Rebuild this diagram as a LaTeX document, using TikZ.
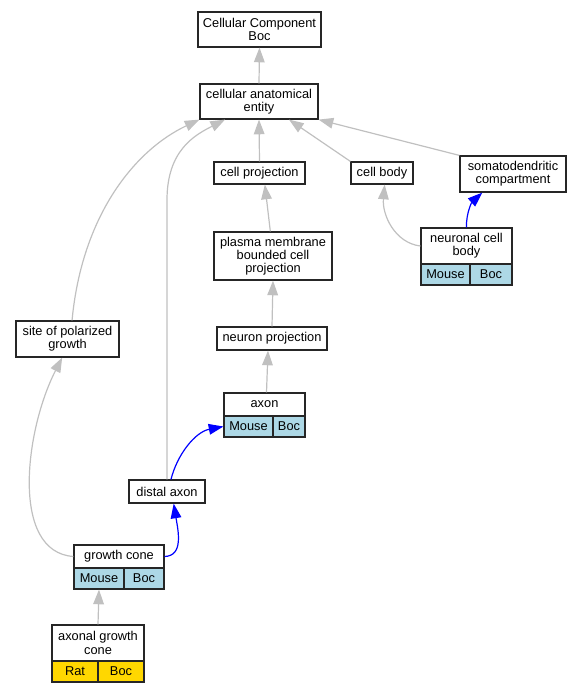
\documentclass[tikz,border=0pt]{standalone}
\usepackage{fontspec}
\setmainfont{Liberation Sans}
\usetikzlibrary{arrows.meta}
\definecolor{lblue}{HTML}{ADD8E6}
\definecolor{gold}{HTML}{FFD700}
\definecolor{edgegray}{HTML}{C0C0C0}
\tikzset{
  bx/.style n args={2}{draw=black!85, line width=0.9pt, fill=white, inner sep=0pt, align=center,
     minimum width=#1*0.75pt, minimum height=#2*0.75pt, font=\fontsize{9.6}{9.9}\selectfont},
  mouse/.style={fill=lblue},
  rat/.style={fill=gold},
  isa/.style={draw=edgegray, line width=0.9pt, -{Triangle[length=11pt,width=8pt]}},
  blueedge/.style={draw=blue, line width=0.9pt, -{Triangle[length=11pt,width=8pt]}},
}
\begin{document}
\begin{tikzpicture}[x=0.75pt,y=-0.75pt]
\useasboundingbox (0,0) rectangle (577,693);
% nodes
\node[bx={123}{35}] (cc) at (259.5,29.5) {Cellular Component\\Boc};
\node[bx={118}{35}] (cae) at (259,101.5) {cellular anatomical\\entity};
\node[bx={91}{22}] (cp) at (259.5,173) {cell projection};
\node[bx={62}{22}] (cb) at (382,173) {cell body};
\node[bx={106}{36}] (sd) at (513,174) {somatodendritic\\compartment};
\node[bx={118}{48}] (pm) at (273,256) {plasma membrane\\bounded cell\\projection};
\node[bx={91}{36}] (ncb) at (466.5,246) {neuronal cell\\body};
\node[bx={49}{21},mouse] (ncbm) at (445.5,274.5) {Mouse};
\node[bx={42}{21},mouse] (ncbb) at (491,274.5) {Boc};
\node[bx={103}{36}] (spg) at (67.5,339) {site of polarized\\growth};
\node[bx={110}{23}] (np) at (272,338.5) {neuron projection};
\node[bx={81}{23}] (ax) at (264.5,404.5) {axon};
\node[bx={49}{21},mouse] (axm) at (248.5,426.5) {Mouse};
\node[bx={32}{21},mouse] (axb) at (289,426.5) {Boc};
\node[bx={76}{23}] (da) at (167,491.5) {distal axon};
\node[bx={90}{23}] (gc) at (119,556.5) {growth cone};
\node[bx={50}{21},mouse] (gcm) at (99,578.5) {Mouse};
\node[bx={40}{21},mouse] (gcb) at (144,578.5) {Boc};
\node[bx={92}{36}] (agc) at (98,643) {axonal growth\\cone};
\node[bx={46}{21},rat] (agcr) at (75,671.5) {Rat};
\node[bx={46}{21},rat] (agcb) at (121,671.5) {Boc};
% edges
\draw[isa] (cae.north) -- (cc.south);
\draw[isa] (cp.north) -- (cae.south);
\draw[isa] (cb.north west) -- ([xshift=22.5pt]cae.south);
\draw[isa] (sd.north west) -- (cae.south east);
\draw[isa] ([xshift=3.4pt]spg.north) .. controls (82,215) and (135,150) .. (cae.south west);
\draw[isa] (da.north) -- (167,200) .. controls (167,150) and (195,135) .. ([xshift=-25.5pt]cae.south);
\draw[isa] ([xshift=-2pt]pm.north) -- ([xshift=4pt]cp.south);
\draw[isa] (np.north) -- (pm.south);
\draw[isa] ([xshift=1.5pt]ax.north) -- ([xshift=-3pt]np.south);
\draw[isa] (ncb.west) .. controls (395,243) and (382,215) .. ([xshift=2pt]cb.south);
\draw[blueedge] (ncb.north) .. controls (466,213) and (472,202) .. ([xshift=-23pt]sd.south);
\draw[blueedge] ([xshift=3pt]da.north) .. controls (177,455) and (195,432) .. (axm.west);
\draw[isa] (gc.west) .. controls (10,552) and (25,430) .. ([xshift=-4pt]spg.south);
\draw[blueedge] (gc.east) .. controls (184,556) and (178,530) .. ([xshift=5pt]da.south);
\draw[isa] (agc.north) -- (gcm.south);
\end{tikzpicture}
\end{document}
